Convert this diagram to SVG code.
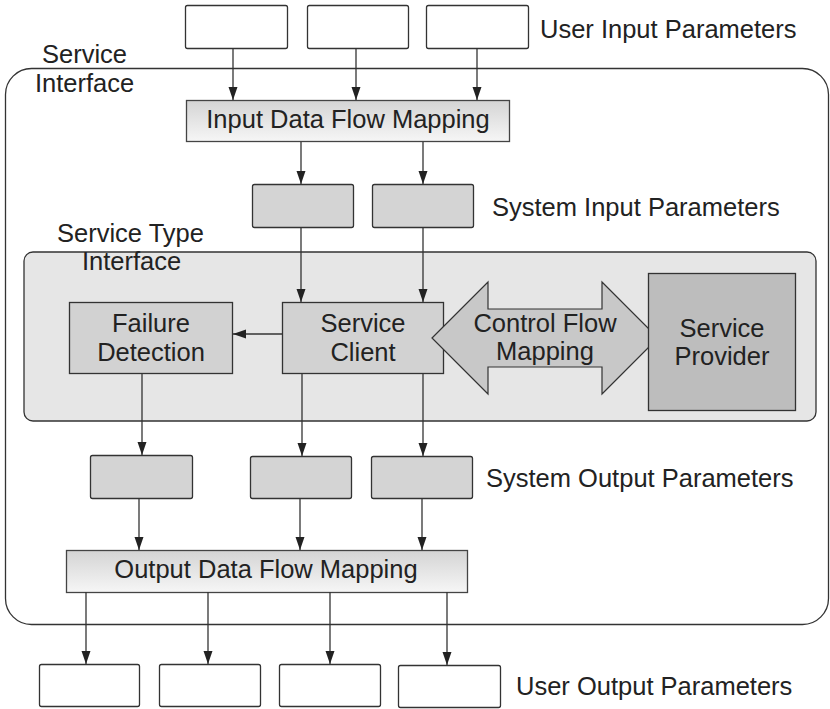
<svg xmlns="http://www.w3.org/2000/svg" width="830" height="709" viewBox="0 0 830 709">
<defs>
<style>
text{font-family:"Liberation Sans",Arial,Helvetica,sans-serif;font-size:25.5px;fill:#222;}
.c{text-anchor:middle;}
.user{fill:#fff;stroke:#333;stroke-width:1.3;}
.sys{fill:#d4d4d4;stroke:#333;stroke-width:1.3;}
.map{fill:url(#mapg);stroke:#444;stroke-width:1.3;}
.comp{fill:#d2d2d2;stroke:#333;stroke-width:1.3;}
.conn line{stroke:#333;stroke-width:1.3;marker-end:url(#ah);}
</style>
<linearGradient id="mapg" x1="0" y1="0" x2="0" y2="1">
<stop offset="0" stop-color="#d4d4d4"/>
<stop offset="1" stop-color="#f6f6f6"/>
</linearGradient>
<marker id="ah" markerUnits="userSpaceOnUse" markerWidth="13" markerHeight="10" refX="13" refY="4.5" orient="auto">
<path d="M0,0 L13,4.5 L0,9 z" fill="#222"/>
</marker>
</defs>

<g id="service-interface">
<rect x="5.5" y="68.5" width="823" height="556" rx="26" fill="#fff" stroke="#333" stroke-width="1.3"/>
<text x="42" y="63">Service</text>
<text x="35" y="92">Interface</text>
</g>

<g id="service-type-interface">
<rect x="24" y="252" width="792" height="169" rx="9" fill="#e6e6e6" stroke="#333" stroke-width="1.3"/>
<text x="57" y="242">Service Type</text>
<text x="82" y="270">Interface</text>
</g>

<g id="user-input-1"><rect class="user" x="185.5" y="5.5" width="102" height="43" rx="2"/></g>
<g id="user-input-2"><rect class="user" x="307.5" y="5.5" width="101" height="43" rx="2"/></g>
<g id="user-input-3"><rect class="user" x="426.5" y="5.5" width="102" height="43" rx="2"/></g>
<g id="user-input-label"><text x="540" y="38">User Input Parameters</text></g>

<g id="input-mapping">
<rect class="map" x="186.5" y="100.5" width="323" height="41"/>
<text class="c" x="348" y="128">Input Data Flow Mapping</text>
</g>

<g id="sys-input-1"><rect class="sys" x="252.5" y="184.5" width="101" height="43" rx="2"/></g>
<g id="sys-input-2"><rect class="sys" x="372.5" y="184.5" width="101" height="43" rx="2"/></g>
<g id="sys-input-label"><text x="492" y="216">System Input Parameters</text></g>

<g id="failure-detection">
<rect class="comp" x="69.5" y="302.5" width="163" height="71"/>
<text class="c" x="151" y="332">Failure</text>
<text class="c" x="151" y="361">Detection</text>
</g>

<g id="service-client">
<rect class="comp" x="282.5" y="302.5" width="161" height="71"/>
<text class="c" x="363" y="332">Service</text>
<text class="c" x="363" y="361">Client</text>
</g>

<g id="control-flow-mapping">
<path d="M432,338 L488,282 L488,309 L602,309 L602,282 L658,338 L602,394 L602,367 L488,367 L488,394 Z" fill="#c8c8c8" stroke="#333" stroke-width="1.2"/>
<text class="c" x="545" y="332">Control Flow</text>
<text class="c" x="545" y="360">Mapping</text>
</g>

<g id="service-provider">
<rect x="648.5" y="273.5" width="147" height="137" fill="#bdbdbd" stroke="#333" stroke-width="1.3"/>
<text class="c" x="722" y="337">Service</text>
<text class="c" x="722" y="365">Provider</text>
</g>

<g id="sys-output-1"><rect class="sys" x="90.5" y="455.5" width="102" height="43" rx="2"/></g>
<g id="sys-output-2"><rect class="sys" x="250.5" y="456.5" width="101" height="42" rx="2"/></g>
<g id="sys-output-3"><rect class="sys" x="371.5" y="456.5" width="101" height="42" rx="2"/></g>
<g id="sys-output-label"><text x="486" y="487">System Output Parameters</text></g>

<g id="output-mapping">
<rect class="map" x="66.5" y="550.5" width="401" height="42"/>
<text class="c" x="266" y="578">Output Data Flow Mapping</text>
</g>

<g id="user-output-1"><rect class="user" x="39.5" y="664.5" width="100" height="42" rx="2"/></g>
<g id="user-output-2"><rect class="user" x="159.5" y="664.5" width="101" height="42" rx="2"/></g>
<g id="user-output-3"><rect class="user" x="279.5" y="664.5" width="101" height="42" rx="2"/></g>
<g id="user-output-4"><rect class="user" x="398.5" y="665.5" width="102" height="42" rx="2"/></g>
<g id="user-output-label"><text x="516" y="695">User Output Parameters</text></g>

<g id="connectors" class="conn">
<line x1="233" y1="48" x2="233" y2="100"/>
<line x1="356" y1="48" x2="356" y2="100"/>
<line x1="477" y1="48" x2="477" y2="100"/>
<line x1="301" y1="142" x2="301" y2="184"/>
<line x1="423" y1="142" x2="423" y2="184"/>
<line x1="301" y1="227" x2="301" y2="302"/>
<line x1="423" y1="227" x2="423" y2="302"/>
<line x1="282" y1="334" x2="233" y2="334"/>
<line x1="142" y1="373" x2="142" y2="455"/>
<line x1="302" y1="373" x2="302" y2="456"/>
<line x1="423" y1="373" x2="423" y2="456"/>
<line x1="139" y1="498" x2="139" y2="550"/>
<line x1="300" y1="498" x2="300" y2="550"/>
<line x1="422" y1="498" x2="422" y2="550"/>
<line x1="86" y1="592" x2="86" y2="664"/>
<line x1="208" y1="592" x2="208" y2="664"/>
<line x1="330" y1="592" x2="330" y2="664"/>
<line x1="447" y1="592" x2="447" y2="665"/>
</g>
</svg>
